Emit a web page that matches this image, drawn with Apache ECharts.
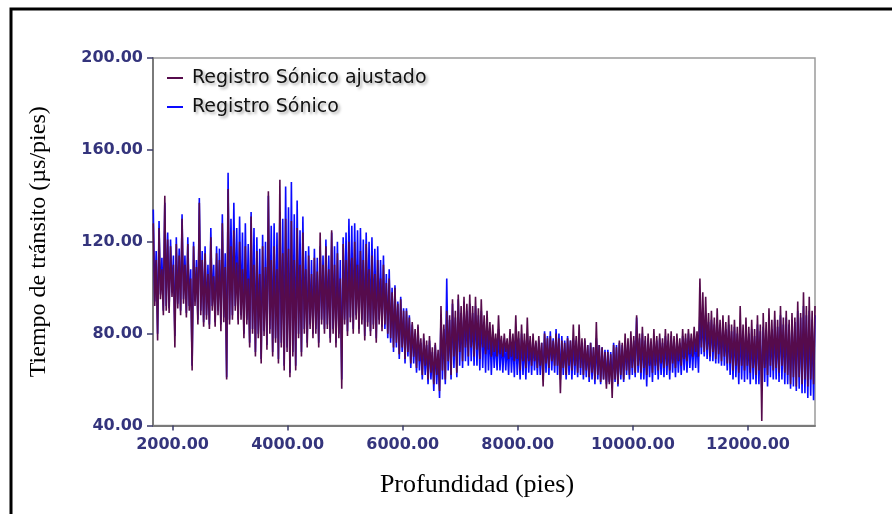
<!DOCTYPE html>
<html>
<head>
<meta charset="utf-8">
<script src="https://cdn.jsdelivr.net/npm/echarts@6/dist/echarts.min.js"></script>
<style>
html,body{margin:0;padding:0;background:#fff;}
#chart{width:892px;height:514px;}
</style>
</head>
<body>
<div id="chart"></div>
<script>
// Depth sampling of the log (pies)
const depthStart = 1665;
const depthStep = 25;

// Tick labels
const xTickValues = [2000, 4000, 6000, 8000, 10000, 12000];
const yTickValues = [40, 80, 120, 160, 200];

// Series names
const seriesNames = ['Registro Sónico ajustado', 'Registro Sónico'];

// Registro Sónico ajustado (µs/pies) (one row = 500 pies)
const sonicAdjusted = [
  128, 92, 112, 77, 126, 95, 108, 88, 140, 90, 121, 89, 118, 96, 110, 74, 119, 91, 114, 88,
  130, 93, 110, 87, 119, 90, 104, 64, 118, 92, 109, 84, 137, 88, 112, 83, 115, 86, 106, 82,
  122, 90, 105, 83, 115, 88, 112, 81, 128, 85, 109, 60, 143, 84, 118, 86, 125, 90, 111, 84,
  120, 86, 108, 78, 118, 84, 104, 74, 131, 80, 110, 70, 116, 78, 106, 67, 118, 79, 109, 73,
  142, 80, 112, 70, 118, 76, 108, 67, 147, 74, 115, 64, 130, 72, 117, 61, 129, 70, 112, 64,
  126, 78, 110, 70, 124, 80, 108, 74, 114, 82, 106, 78, 113, 80, 107, 74, 124, 84, 110, 80,
  118, 82, 108, 76, 125, 80, 110, 74, 115, 78, 104, 56, 119, 84, 112, 79, 120, 85, 113, 80,
  120, 86, 110, 80, 116, 84, 112, 77, 119, 83, 108, 79, 114, 82, 106, 76, 112, 84, 104, 81,
  110, 84, 102, 80, 104, 78, 98, 74, 100, 76, 93, 71, 95, 74, 90, 69, 90, 72, 87, 67,
  85, 70, 82, 65, 84, 68, 78, 62, 80, 66, 77, 60, 79, 63, 74, 58, 76, 62, 73, 55,
  92, 64, 84, 60, 90, 68, 88, 62, 95, 70, 90, 63, 97, 72, 92, 68, 96, 74, 93, 70,
  97, 74, 92, 70, 96, 73, 91, 69, 95, 74, 88, 71, 90, 73, 85, 70, 84, 72, 80, 70,
  88, 71, 79, 70, 80, 72, 78, 69, 82, 70, 80, 68, 88, 69, 81, 64, 84, 68, 80, 65,
  87, 68, 79, 66, 80, 68, 77, 65, 79, 66, 76, 57, 80, 67, 78, 65, 79, 68, 77, 66,
  80, 66, 78, 54, 77, 65, 76, 62, 78, 66, 77, 64, 84, 66, 79, 63, 84, 65, 78, 62,
  78, 64, 75, 61, 76, 63, 74, 60, 85, 62, 75, 59, 74, 60, 72, 56, 72, 58, 71, 52,
  75, 60, 74, 58, 77, 62, 76, 60, 80, 64, 78, 62, 81, 65, 79, 63, 88, 66, 80, 63,
  83, 65, 79, 62, 80, 66, 78, 63, 82, 66, 79, 64, 80, 67, 78, 65, 82, 66, 80, 64,
  81, 67, 79, 65, 80, 68, 78, 66, 82, 69, 80, 68, 82, 71, 80, 70, 83, 72, 81, 70,
  104, 74, 98, 72, 96, 73, 89, 70, 90, 72, 87, 69, 91, 71, 86, 68, 88, 70, 85, 67,
  88, 67, 84, 64, 86, 66, 83, 63, 92, 66, 84, 64, 87, 66, 83, 63, 86, 65, 82, 62,
  88, 64, 84, 42, 89, 65, 85, 62, 91, 66, 86, 64, 90, 65, 86, 63, 92, 66, 87, 63,
  90, 62, 86, 58, 89, 61, 87, 57, 94, 61, 89, 58, 98, 60, 92, 57, 96, 60, 90, 58, 92
];

// Registro Sónico (µs/pies) (one row = 500 pies)
const sonic = [
  134, 94, 116, 80, 129, 97, 113, 90, 137, 92, 124, 91, 121, 98, 114, 79, 122, 93, 117, 90,
  132, 95, 114, 89, 122, 92, 108, 66, 120, 94, 112, 86, 139, 90, 116, 85, 118, 88, 110, 84,
  126, 92, 110, 85, 118, 90, 117, 84, 132, 87, 115, 61, 150, 86, 130, 88, 137, 92, 126, 86,
  131, 88, 124, 80, 128, 86, 119, 76, 133, 82, 126, 72, 122, 80, 117, 69, 123, 81, 120, 75,
  140, 82, 127, 72, 128, 78, 124, 69, 133, 76, 130, 66, 144, 74, 135, 63, 146, 72, 132, 66,
  138, 80, 125, 72, 131, 82, 116, 76, 118, 84, 112, 80, 117, 82, 113, 76, 118, 86, 114, 82,
  121, 84, 114, 78, 124, 82, 118, 76, 120, 80, 112, 60, 122, 86, 124, 81, 130, 87, 127, 82,
  128, 88, 125, 82, 126, 86, 121, 79, 124, 85, 120, 81, 122, 84, 117, 78, 118, 86, 112, 83,
  114, 82, 106, 78, 108, 76, 100, 72, 101, 74, 94, 69, 96, 72, 91, 67, 91, 70, 88, 65,
  84, 67, 80, 63, 83, 64, 76, 60, 78, 62, 75, 58, 77, 60, 72, 55, 75, 58, 71, 52,
  88, 60, 82, 58, 104, 64, 86, 60, 93, 65, 87, 61, 95, 66, 89, 65, 94, 68, 90, 66,
  93, 68, 89, 66, 92, 66, 88, 64, 90, 65, 85, 63, 86, 64, 82, 62, 80, 65, 78, 64,
  82, 64, 77, 63, 78, 64, 76, 62, 79, 63, 77, 61, 80, 62, 78, 60, 80, 62, 77, 60,
  80, 63, 77, 62, 78, 64, 76, 62, 77, 62, 76, 60, 81, 63, 79, 62, 81, 64, 78, 63,
  82, 62, 80, 60, 79, 62, 77, 60, 79, 62, 77, 60, 78, 62, 77, 61, 79, 62, 76, 60,
  77, 61, 75, 59, 76, 60, 74, 58, 78, 60, 75, 58, 74, 60, 73, 58, 73, 59, 72, 57,
  76, 59, 75, 57, 76, 60, 75, 59, 77, 62, 76, 60, 78, 62, 77, 61, 87, 63, 78, 60,
  80, 60, 77, 57, 78, 61, 76, 59, 79, 62, 77, 60, 78, 62, 76, 61, 79, 62, 77, 60,
  79, 63, 77, 61, 78, 63, 76, 62, 79, 64, 78, 63, 80, 65, 78, 64, 80, 65, 78, 63,
  90, 71, 88, 70, 88, 69, 85, 68, 86, 68, 84, 67, 86, 67, 83, 66, 85, 66, 82, 64,
  84, 62, 81, 60, 83, 61, 80, 58, 84, 60, 81, 59, 83, 60, 80, 58, 82, 60, 79, 58,
  84, 58, 81, 56, 83, 59, 81, 57, 85, 61, 82, 60, 86, 60, 83, 59, 88, 60, 84, 58,
  87, 58, 84, 56, 86, 57, 85, 55, 90, 56, 87, 54, 92, 54, 88, 52, 90, 53, 86, 51, 88
];

function toPairs(values) {
  return values.map(function (v, i) { return [depthStart + i * depthStep, v]; });
}

const labelColor = '#34347c';
const chart = echarts.init(document.getElementById('chart'), null, {renderer: 'canvas'});
chart.setOption({
  animation: false,
  backgroundColor: '#ffffff',
  graphic: [{
    type: 'rect',
    silent: true,
    shape: {x: 11, y: 9, width: 920, height: 560},
    style: {fill: 'none', stroke: '#000', lineWidth: 3}
  }],
  grid: {
    left: 153, top: 58, right: 77, bottom: 88.5,
    show: true, borderColor: '#9a9a9a', borderWidth: 1.5,
    containLabel: false
  },
  legend: {
    orient: 'vertical',
    left: 162, top: 62,
    itemWidth: 16, itemHeight: 2, itemGap: 7,
    icon: 'rect',
    selectedMode: false,
    data: seriesNames,
    textStyle: {
      fontFamily: 'DejaVu Sans', fontSize: 19, lineHeight: 22, color: '#111',
      padding: [0, 0, 0, 4],
      textShadowColor: 'rgba(0,0,0,0.35)', textShadowBlur: 3,
      textShadowOffsetX: 2, textShadowOffsetY: 2
    }
  },
  xAxis: {
    type: 'value',
    min: 1660, max: 13165,
    name: 'Profundidad (pies)',
    nameLocation: 'middle',
    nameGap: 47,
    nameTextStyle: {fontFamily: 'Liberation Serif', fontSize: 26, color: '#000', padding: [0, 14, 0, 0]},
    axisLine: {lineStyle: {color: '#7a7a7a', width: 2}},
    axisTick: {customValues: xTickValues, length: 5, inside: false, lineStyle: {color: '#3a3a6a', width: 1.5}},
    axisLabel: {
      customValues: xTickValues,
      margin: 11,
      fontFamily: 'DejaVu Sans', fontSize: 16, fontWeight: 'bold', color: labelColor,
      formatter: function (v) { return v.toFixed(2); }
    },
    splitLine: {show: false}
  },
  yAxis: {
    type: 'value',
    min: 40, max: 200, interval: 40,
    name: 'Tiempo de tránsito (µs/pies)',
    nameLocation: 'middle',
    nameGap: 102,
    nameTextStyle: {fontFamily: 'Liberation Serif', fontSize: 24, color: '#000'},
    axisLine: {show: true, lineStyle: {color: '#7a7a7a', width: 2}},
    axisTick: {show: true, length: 6, lineStyle: {color: '#3a3a6a', width: 1.5}},
    axisLabel: {
      margin: 10,
      fontFamily: 'DejaVu Sans', fontSize: 16, fontWeight: 'bold', color: labelColor,
      formatter: function (v) { return yTickValues.indexOf(v) >= 0 ? v.toFixed(2) : ''; }
    },
    splitLine: {show: false}
  },
  series: [
    {
      name: seriesNames[1],
      type: 'line',
      data: toPairs(sonic),
      symbol: 'none',
      sampling: null,
      lineStyle: {color: '#0a0aff', width: 1.6, join: 'miter', cap: 'butt'},
      itemStyle: {color: '#0a0aff'},
      z: 2
    },
    {
      name: seriesNames[0],
      type: 'line',
      data: toPairs(sonicAdjusted),
      symbol: 'none',
      sampling: null,
      lineStyle: {color: '#560b4c', width: 1.6, join: 'miter', cap: 'butt'},
      itemStyle: {color: '#560b4c'},
      z: 3
    }
  ]
});
</script>
</body>
</html>
